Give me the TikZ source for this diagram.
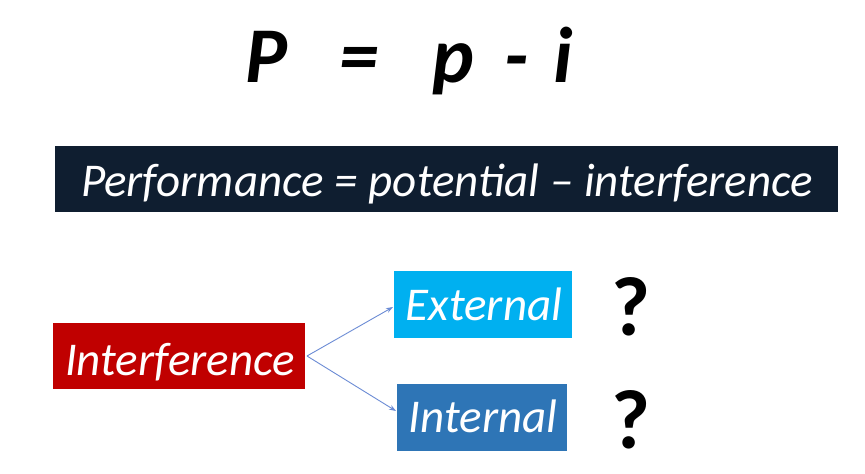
\documentclass[tikz,border=0pt]{standalone}
\usepackage{fontspec}
\setmainfont{Carlito}
\usetikzlibrary{arrows.meta}
\definecolor{banner}{HTML}{0F1E30}
\definecolor{redbox}{HTML}{C00000}
\definecolor{extbox}{HTML}{00B0F0}
\definecolor{intbox}{HTML}{2E75B6}
\definecolor{arrowc}{HTML}{6C8CD5}
\tikzset{
  box/.style={inner sep=0pt, text=white, font=\itshape\fontsize{47}{49}\selectfont, anchor=base},
  conn/.style={draw=arrowc, line width=0.9pt, -{Stealth[length=7pt,width=5pt]}},
  qmark/.style={font=\bfseries\fontsize{84}{86}\selectfont, text=black, inner sep=0pt, anchor=base}
}
\begin{document}
\begin{tikzpicture}[x=1pt,y=-1pt]
\useasboundingbox (0,0) rectangle (865,474);
\fill[white] (0,0) rectangle (865,474);
% title
\node[font=\bfseries\itshape\fontsize{79}{81}\selectfont, anchor=base west, inner sep=0pt] (title) at (245,82)
  {P\hspace{52pt}=\hspace{54pt}p\hspace{30pt}-\hspace{25pt}i};
% banner
\fill[banner] (55,146) rectangle (838,212);
\node[font=\itshape\fontsize{47}{49}\selectfont, text=white, anchor=base, inner sep=0pt] (formula) at (447,196)
  {Performance = potential – interference};
% boxes
\fill[redbox] (53,323) rectangle (305,389);
\node[box] (interf) at (180,375) {Interference};
\fill[extbox] (394,271) rectangle (572,338);
\node[box] (ext) at (484,320) {External};
\fill[intbox] (397,384) rectangle (567,451);
\node[box] (int) at (483,432) {Internal};
\coordinate (src) at (307,356);
\coordinate (extin) at (393,307);
\coordinate (intin) at (396,411);
\draw[conn] (src) -- (extin);
\draw[conn] (src) -- (intin);
% question marks
\node[qmark] (q1) at (631,335) {?};
\node[qmark] (q2) at (631,448) {?};
\end{tikzpicture}
\end{document}
